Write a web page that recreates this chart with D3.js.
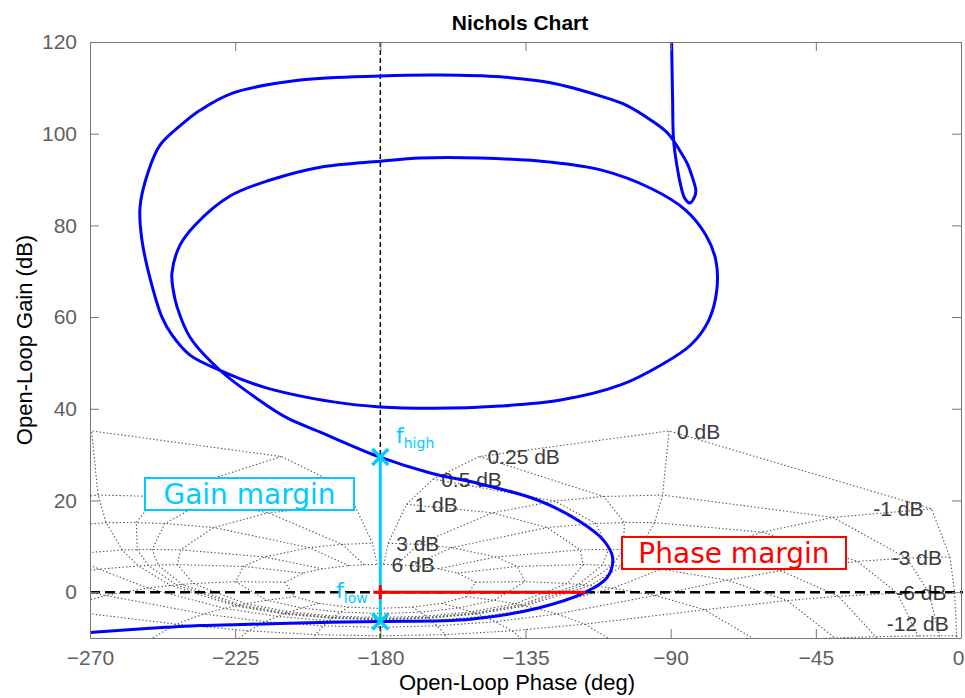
<!DOCTYPE html>
<html lang="en">
<head>
<meta charset="UTF-8">
<title>Nichols Chart</title>
<script src="https://cdn.jsdelivr.net/npm/d3@7"></script>
<style>
  body { margin: 0; background: #fff; font-family: "Liberation Sans", Arial, Helvetica, sans-serif; }
  svg { display: block; }
  .tick line { stroke: #777; }
  .tick text { fill: #5f5f5f; font-size: 21px; font-family: "Liberation Sans", Arial, sans-serif; }
  .domain { stroke: #777; }
  .grid-line { fill: none; stroke: #555; stroke-width: 1.1; stroke-dasharray: 1.4 2.2; }
  .grid-label { fill: #3a3a3a; font-size: 21px; }
  .note { font-family: "DejaVu Sans", sans-serif; }
</style>
</head>
<body>
<svg id="chart" width="965" height="698"></svg>
<script>
// open-loop response (phase deg, gain dB), in frequency order
const phaseDeg = [-89.7, -89.4, -89.1, -88.1, -86.9, -85.7, -84.1, -82.5, -82.2, -83.2,
  -84.8, -86.9, -90.9, -96.2, -104.0, -111.7, -127.2, -142.8, -161.4, -180,
  -204.8, -225.6, -235.9, -241.1, -248.3, -252.0, -254.5, -253.9, -251.4, -247.7,
  -244.6, -239.0, -229.7, -215.1, -194.6, -180, -163.6, -142.8, -124.1, -105.5,
  -93.1, -83.8, -78.2, -75.7, -76.0, -79.1, -85.3, -96.2, -111.7, -127.2,
  -149.0, -167.6, -180, -198.6, -214.1, -226.6, -237.4, -242.1, -244.6, -244.2,
  -243.0, -239.0, -229.7, -217.2, -208.9, -198.6, -180.3, -164.5, -149.0, -131.3,
  -117.9, -110.8, -108.0, -109.6, -116.4, -131.3, -152.1, -180.3, -198.6, -220.3,
  -235.9, -251.4, -270];
const gainDb = [120, 107.3, 98.6, 93.2, 88.8, 86.0, 84.9, 86.4, 87.7, 90.3,
  93.4, 96.0, 100.1, 103.0, 106.3, 108.2, 111.1, 112.4, 112.8, 112.6,
  111.7, 108.9, 105.1, 102.3, 97.5, 91.6, 84.0, 76.8, 68.5, 60.0,
  56.1, 51.7, 48.4, 44.5, 41.5, 40.4, 40.1, 40.6, 41.9, 45.2,
  49.5, 53.9, 59.3, 65.9, 72.4, 77.9, 83.3, 88.1, 92.1, 93.8,
  94.7, 94.7, 94.0, 92.7, 89.9, 86.4, 80.1, 75.7, 69.6, 65.9,
  62.2, 55.6, 48.4, 41.7, 38.0, 34.9, 29.5, 26.0, 23.6, 20.1,
  15.3, 11.3, 7.6, 3.3, 0, -3.5, -5.9, -6.4, -6.6, -7.0,
  -7.3, -7.9, -8.8];

// Nichols grid levels: closed-loop magnitude (dB) and closed-loop phase (deg)
const clMagDb = [6, 3, 1, 0.5, 0.25, 0, -1, -3, -6, -12, -20, -40, -60, -80];
const clPhaseDeg = [-1, -5, -10, -20, -30, -50, -90, -120, -150, -180];
const labelMagDb = [6, 3, 1, 0.5, 0.25, 0, -1, -3, -6, -12];

// margins
const marginPhase = -180;
const gmLowDb = -6.4, gmHighDb = 29.5;
const pmCrossPhase = -116.4;

const xTicks = [-270, -225, -180, -135, -90, -45, 0];
const yTicks = [0, 20, 40, 60, 80, 100, 120];

const pLeft = 90, pRight = 961, pTop = 42, pBottom = 638;
const svg = d3.select("#chart");
const x = d3.scaleLinear().domain([-270, 0]).range([pLeft, pRight]);
const y = d3.scaleLinear().domain([-10, 120]).range([pBottom, pTop]);

svg.append("clipPath").attr("id", "plot")
  .append("rect").attr("x", pLeft).attr("y", pTop)
  .attr("width", pRight - pLeft).attr("height", pBottom - pTop);

// open-loop point for a closed-loop magnitude/phase
function openLoop(mDb, thDeg) {
  const M = Math.pow(10, mDb / 20), th = thDeg * Math.PI / 180;
  const tr = M * Math.cos(th), ti = M * Math.sin(th);
  const dr = 1 - tr, di = -ti;
  const g = 20 * Math.log10(M / Math.hypot(dr, di));
  const p = thDeg - Math.atan2(di, dr) * 180 / Math.PI;
  return [p, g];
}
const mirror = pt => [-360 - pt[0], pt[1]];

const grid = svg.append("g").attr("clip-path", "url(#plot)");
const gridLine = d3.line().x(d => x(d[0])).y(d => y(d[1]));

// constant closed-loop magnitude contours
clMagDb.forEach(m => {
  const half = clPhaseDeg.map(t => openLoop(m, t));
  const pts = half.concat(half.slice(0, -1).reverse().map(mirror));
  grid.append("path").attr("class", "grid-line").attr("d", gridLine(pts));
});
// constant closed-loop phase contours
clPhaseDeg.forEach(t => {
  const pts = clMagDb.map(m => openLoop(m, t));
  grid.append("path").attr("class", "grid-line").attr("d", gridLine(pts));
  grid.append("path").attr("class", "grid-line").attr("d", gridLine(pts.map(mirror)));
});

// grid labels
labelMagDb.forEach(m => {
  const p = openLoop(m, clPhaseDeg[0]);
  const px = x(p[0]), py = Math.min(y(p[1]), pBottom - 15);
  svg.append("text").attr("class", "grid-label")
    .attr("x", m >= 0 ? px + 8 : px - 8).attr("y", py)
    .attr("dy", "0.36em")
    .attr("text-anchor", m >= 0 ? "start" : "end")
    .text(m + " dB");
});

// reference lines
svg.append("line")
  .attr("x1", x(-180)).attr("x2", x(-180)).attr("y1", pTop).attr("y2", pBottom)
  .attr("stroke", "#000").attr("stroke-width", 1.5).attr("stroke-dasharray", "5 3");
svg.append("line")
  .attr("x1", pLeft).attr("x2", pRight + 2).attr("y1", y(0)).attr("y2", y(0))
  .attr("stroke", "#000").attr("stroke-width", 2.5).attr("stroke-dasharray", "10 5");

// response
const curve = d3.line()
  .x((d, i) => x(phaseDeg[i])).y((d, i) => y(gainDb[i]))
  .curve(d3.curveCatmullRom.alpha(0.5));
svg.append("path").attr("clip-path", "url(#plot)")
  .attr("d", curve(phaseDeg))
  .attr("fill", "none").attr("stroke", "#0000ff").attr("stroke-width", 3);

// gain margin
const cyan = "#00ccff";
svg.append("line")
  .attr("x1", x(marginPhase)).attr("x2", x(marginPhase))
  .attr("y1", y(gmLowDb)).attr("y2", y(gmHighDb))
  .attr("stroke", cyan).attr("stroke-width", 3);

// phase margin
svg.append("line")
  .attr("x1", x(marginPhase)).attr("x2", x(pmCrossPhase))
  .attr("y1", y(0)).attr("y2", y(0))
  .attr("stroke", "#ff0000").attr("stroke-width", 3);
svg.append("path")
  .attr("d", `M${x(marginPhase)},${y(0) - 7}V${y(0) + 7}M${x(marginPhase) - 7},${y(0)}H${x(marginPhase) + 7}`)
  .attr("stroke", "#ff0000").attr("stroke-width", 3);

// X markers
[gmHighDb, gmLowDb].forEach(g => {
  const cx = x(marginPhase), cy = y(g), r = 8;
  svg.append("path")
    .attr("d", `M${cx - r},${cy - r}L${cx + r},${cy + r}M${cx - r},${cy + r}L${cx + r},${cy - r}`)
    .attr("stroke", cyan).attr("stroke-width", 3.5);
});

// annotations
function noteBox(cx, cy, w, h, color, label) {
  svg.append("rect").attr("x", cx - w / 2).attr("y", cy - h / 2)
    .attr("width", w).attr("height", h)
    .attr("fill", "#fff").attr("stroke", color).attr("stroke-width", 2);
  svg.append("text").attr("class", "note")
    .attr("x", cx).attr("y", cy).attr("dy", "0.36em")
    .attr("text-anchor", "middle").attr("fill", color)
    .style("font-size", "28px").text(label);
}
noteBox(249.5, 494, 209, 32, cyan, "Gain margin");
noteBox(734, 553, 224, 32, "#ff0000", "Phase margin");

function freqLabel(px, py, sub) {
  const t = svg.append("text").attr("class", "note").attr("x", px).attr("y", py)
    .attr("fill", cyan).style("font-size", "22px");
  t.append("tspan").text("f");
  t.append("tspan").attr("dy", 5).style("font-size", "14px").text(sub);
}
freqLabel(396, 443, "high");
freqLabel(336, 598, "low");

// axes
const xAxis = svg.append("g").attr("transform", `translate(0,${pBottom})`)
  .call(d3.axisBottom(x).tickValues(xTicks).tickSizeInner(-9).tickSizeOuter(0).tickPadding(12));
xAxis.selectAll(".tick text").filter(d => d === 0).attr("dx", -3);
svg.append("g").attr("transform", `translate(0,${pTop})`)
  .call(d3.axisTop(x).tickValues(xTicks).tickSizeInner(-9).tickSizeOuter(0).tickFormat(""));
svg.append("g").attr("transform", `translate(${pLeft},0)`)
  .call(d3.axisLeft(y).tickValues(yTicks).tickSizeInner(-9).tickSizeOuter(0).tickPadding(13));
svg.append("g").attr("transform", `translate(${pRight},0)`)
  .call(d3.axisRight(y).tickValues(yTicks).tickSizeInner(-9).tickSizeOuter(0).tickFormat(""));

svg.append("text").attr("x", 520).attr("y", 30).attr("text-anchor", "middle")
  .style("font-size", "21px").style("font-weight", "bold").text("Nichols Chart");
svg.append("text").attr("x", 517).attr("y", 690).attr("text-anchor", "middle")
  .style("font-size", "22px").text("Open-Loop Phase (deg)");
svg.append("text").attr("transform", `translate(32,${(pTop + pBottom) / 2}) rotate(-90)`)
  .attr("text-anchor", "middle")
  .style("font-size", "22px").text("Open-Loop Gain (dB)");
</script>
</body>
</html>
